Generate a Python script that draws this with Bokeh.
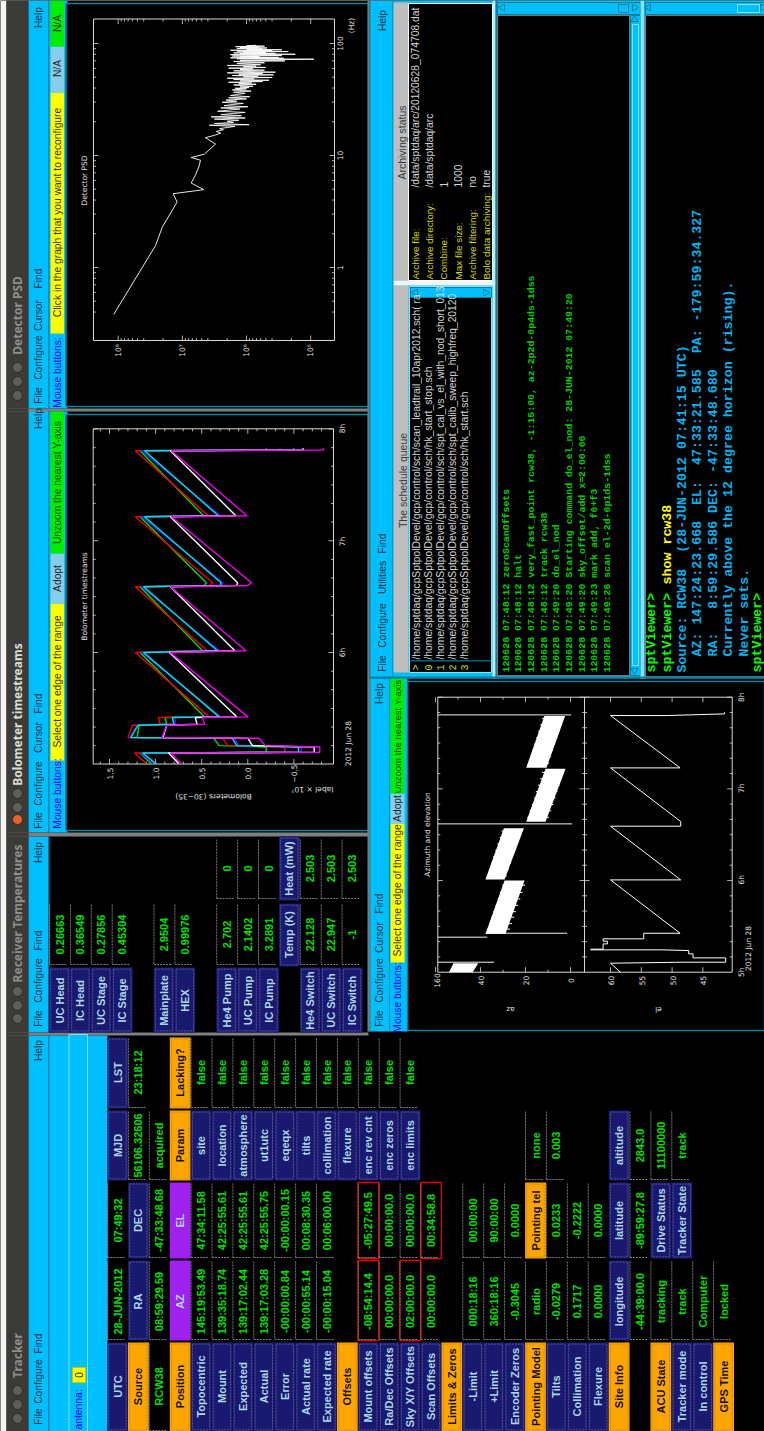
from math import pi
from bokeh.plotting import figure
from bokeh.models import Range1d
from bokeh.core.properties import value
from bokeh.embed import file_html
from bokeh.resources import INLINE

# ---------------- data ----------------
tracker_rows = [
 ["n:UTC","v:28-JUN-2012","v:07:49:32","n:MJD","n:LST"],
 ["o:Source","n:RA","n:DEC","v:56106.32606","v:23:18:12"],
 ["v:RCW38","v:08:59:29.59","v:-47:33:48.68","v:acquired",""],
 ["o:Position","p:AZ","p:EL","o:Param","o:Lacking?"],
 ["n:Topocentric","v:145:19:53.49","v:47:34:11.58","n:site","v:false"],
 ["n:Mount","v:139:35:18.74","v:42:25:55.61","n:location","v:false"],
 ["n:Expected","v:139:17:02.44","v:42:25:55.61","n:atmosphere","v:false"],
 ["n:Actual","v:139:17:03.28","v:42:25:55.75","n:ut1utc","v:false"],
 ["n:Error","v:-00:00:00.84","v:-00:00:00.15","n:eqeqx","v:false"],
 ["n:Actual rate","v:-00:00:55.14","v:00:08:30.35","n:tilts","v:false"],
 ["n:Expected rate","v:-00:00:15.04","v:00:06:00.00","n:collimation","v:false"],
 ["o:Offsets","","","n:flexure","v:false"],
 ["n:Mount offsets","r:-08:54:14.4","r:-05:27:49.5","n:enc rev cnt","v:false"],
 ["n:Ra/Dec Offsets","v:00:00:00.0","v:00:00:00.0","n:enc zeros","v:false"],
 ["n:Sky X/Y Offsets","r:02:00:00.0","v:00:00:00.0","n:enc limits","v:false"],
 ["n:Scan Offsets","v:00:00:00.0","r:00:34:58.8","",""],
 ["o:Limits & Zeros","","","",""],
 ["n:-Limit","v:000:18:16","v:00:00:00","",""],
 ["n:+Limit","v:360:18:16","v:90:00:00","",""],
 ["n:Encoder Zeros","v:-0.3045","v:0.0000","",""],
 ["o:Pointing Model","v:radio","o:Pointing tel","v:none",""],
 ["n:Tilts","v:-0.0279","v:0.0233","v:0.003",""],
 ["n:Collimation","v:0.1717","v:-0.2222","",""],
 ["n:Flexure","v:0.0000","v:0.0000","",""],
 ["o:Site Info","n:longitude","n:latitude","n:altitude",""],
 ["","v:-44:39:00.0","v:-89:59:27.8","v:2843.0",""],
 ["o:ACU State","v:tracking","n:Drive Status","v:11100000",""],
 ["n:Tracker mode","v:track","n:Tracker State","v:track",""],
 ["n:In control","v:Computer","","",""],
 ["o:GPS Time","v:locked","","",""],
]
temp_rows = [
 (0,"UC Head","0.26663",""),(1,"IC Head","0.36549",""),(2,"UC Stage","0.27856",""),(3,"IC Stage","0.45304",""),
 (5,"Mainplate","2.9504",""),(6,"HEX","0.99976",""),
 (8,"He4 Pump","2.702","0"),(9,"UC Pump","2.1402","0"),(10,"IC Pump","3.2891","0"),
 (12,"He4 Switch","22.128","2.503"),(13,"UC Switch","22.947","2.503"),(14,"IC Switch","-1","2.503"),
]
schedule_lines = [
 "/home/sptdaq/gcpSptpolDevel/gcp/control/sch/scan_leadtrail_10apr2012.sch( ra",
 "/home/sptdaq/gcpSptpolDevel/gcp/control/sch/hk_start_stop.sch",
 "/home/sptdaq/gcpSptpolDevel/gcp/control/sch/spt_cal_vs_el_with_nod_short_013",
 "/home/sptdaq/gcpSptpolDevel/gcp/control/sch/spt_calib_sweep_highfreq_20120",
 "/home/sptdaq/gcpSptpolDevel/gcp/control/sch/hk_start.sch",
]
schedule_marks = [">","0","1","2","3"]
archive_labels = ["Archive file:","Archive directory:","Combine:","Max file size:","Archive filtering:","Bolo data archiving:"]
archive_values = ["/data/sptdaq/arc/20120628_074708.dat","/data/sptdaq/arc","1","1000","no","true"]
log_lines = [
 "120628 07:48:12 zeroScanOffsets","120628 07:48:12 halt",
 "120628 07:48:12 very_fast_point rcw38, -1:15:00, az-2p2d-0p4ds-1dss",
 "120628 07:48:12 track rcw38","120628 07:49:20 do_el_nod",
 "120628 07:49:20 Starting command do_el_nod: 28-JUN-2012 07:49:20",
 "120628 07:49:20 sky_offset/add x=2:00:00","120628 07:49:23 mark add, f0+f3",
 "120628 07:49:26 scan el-2d-0p1ds-1dss",
]
console_lines = [
 "Source: RCW38  (28-JUN-2012 07:41:15 UTC)",
 "  AZ: 147:24:23.668  EL:  47:33:21.585  PA: -179:59:34.327",
 "  RA:   8:59:29.586 DEC: -47:33:48.680",
 "  Currently above the 12 degree horizon (rising).",
 "  Never sets.",
]

bolo_hours = [5.006,5.101,5.107,5.155,5.167,5.233,5.239,5.349,5.358,5.418,5.424,6.0,6.015,6.588,6.6,6.624,7.215,7.224,7.806,7.812,7.827]
bolo_green   = [1.05,1.17,-0.2,-0.2,0.31,0.37,1.2,1.18,0.88,0.9,0.47,1.17,0.49,1.17,0.47,0.45,1.17,0.48,1.17,-0.2,-0.2]
bolo_red     = [1.1,1.23,-0.4,-0.4,0.22,0.27,1.3,1.25,0.95,0.97,0.42,1.22,0.44,1.22,0.42,0.38,1.22,0.43,1.22,-0.35,-0.35]
bolo_blue    = [1.03,1.16,-0.58,-0.58,0.1,0.15,1.28,1.2,0.78,0.8,0.30,1.15,0.31,1.15,0.28,0.27,1.15,0.30,1.15,-0.6,-0.6]
bolo_cyan    = [1.0,1.14,-0.55,-0.55,0.12,0.17,1.27,1.19,0.8,0.82,0.31,1.13,0.33,1.13,0.30,0.29,1.12,0.32,1.12,-0.5,-0.5]
bolo_white   = [0.75,0.86,-0.72,-0.72,-0.05,0.0,0.92,0.88,0.55,0.57,0.12,0.85,0.14,0.84,0.12,0.11,0.84,0.13,0.84,-0.6,-0.6]
bolo_magenta = [0.72,0.84,-0.78,-0.78,-0.19,-0.12,0.93,0.88,0.47,0.49,0.0,0.84,0.02,0.84,0.0,-0.04,0.83,0.01,0.83,-0.82,-0.82]

psd_log_freq = [-0.419,0.195,0.359,0.584,0.659,0.695,0.754,0.82,0.898,0.958,0.982,1.012,1.102,1.159,
 1.18,1.20,1.215,1.23,1.24,1.25,1.26,1.27,1.275,1.285,1.295,1.305,1.315,1.325,1.335,1.345,1.355,1.365,1.375,1.385,1.395,1.405,1.415,1.425,1.435,1.445,1.455,1.465,1.475,1.485,1.495,1.505,1.515,1.525,1.535,1.545,1.555,1.565,1.575,1.585,1.595,
 1.60,1.606,1.612,1.618,1.624,1.63,1.636,1.642,1.648,1.654,1.66,1.666,1.672,1.678,1.684,1.69,1.696,1.702,1.708,1.714,1.72,1.726,1.732,1.738,1.744,1.75,1.756,1.762,1.768,1.774,1.78,1.786,1.792,1.798,1.804,1.81,1.816,1.822,1.828,1.834,1.84,1.845,1.85,1.855,1.86,1.864,1.868,1.872,1.876,1.88,1.884,1.888,1.892,1.896,1.9,1.904,1.908,1.912,1.916,1.92,1.924,1.928,1.932,1.936,1.94,1.944,1.948,1.952,1.956,1.96,1.964,1.968,1.972,1.976,1.98,1.984]
psd_log_power = [8.07,7.418,7.314,7.081,7.143,6.665,6.862,6.80,6.743,6.717,6.862,6.655,6.483,6.639,
 6.50,6.40,6.47,6.36,6.42,6.30,6.18,6.58,5.96,6.50,6.2,6.3,6.12,6.5,6.02,6.55,6.08,6.4,6.2,6.02,6.45,6.28,6.1,6.4,5.98,6.35,6.22,6.05,6.38,6.15,6.32,6.0,6.28,5.95,6.25,6.15,6.02,6.2,5.93,6.22,6.0,
 6.18,5.96,6.1,5.9,6.05,6.2,5.85,6.12,5.92,6.28,5.75,6.1,5.65,6.2,5.88,6.3,5.6,6.05,5.82,6.22,5.58,6.12,5.75,6.3,5.55,6.0,6.2,5.72,6.1,5.9,6.28,5.7,6.05,5.85,6.3,5.78,6.0,6.15,5.72,6.05,6.2,5.4,6.1,5.6,4.95,6.15,5.42,6.25,5.5,6.1,5.8,6.22,5.45,6.0,6.25,5.24,6.1,5.55,6.2,5.7,6.05,5.35,6.15,5.6,6.25,5.45,6.0,5.75,6.15,5.68,6.1,5.8,6.17,5.72,6.0,5.85]

az_band_hours = [[5.0,5.098],[5.418,6.0],[6.01,6.57],[6.64,7.22],[7.23,7.795]]
az_band_low   = [[43.5,41.0],[28.9,20.4],[29.3,20.7],[11.1,2.2],[10.7,2.4]]
az_band_high  = [[54.0,52.0],[37.8,29.3],[37.8,29.6],[19.7,11.1],[19.7,11.6]]
az_slew_hours = [5.109,5.382,5.425,6.618,7.807]
az_slew_from  = [59,59,37,59,59]
az_slew_to    = [34,37,1.5,-0.7,-0.3]
# short scan turn-round marks that stick out of the white bands
az_comb_hours = [5.47,5.53,5.60,5.66,5.73,5.80,5.87,5.95,6.05,6.12,6.19,6.26,6.33,6.40,6.47,6.54,6.69,6.76,6.83,6.90,6.97,7.04,7.11,7.18,7.28,7.35,7.42,7.49,7.56,7.63,7.70,7.77]
az_comb_low   = [26.9,26.0,25.0,24.2,23.3,22.3,21.3,20.2,28.3,27.4,26.5,25.6,24.6,23.7,22.8,21.8,9.6,8.6,7.6,6.7,5.8,4.8,3.9,3.0,9.5,8.6,7.7,6.8,5.8,4.9,4.0,3.0]
az_comb_high  = [37.0,36.1,35.2,34.4,33.3,32.4,31.4,30.3,37.1,36.2,35.2,34.4,33.4,32.5,31.5,30.7,19.2,18.2,17.2,16.3,15.4,14.4,13.5,12.6,18.9,17.9,17.1,16.2,15.2,14.3,13.4,12.6]

el_hours = [5.0,5.098,5.109,5.109,5.156,5.156,5.2,5.2,5.236,5.244,5.244,5.251,5.251,5.309,5.309,5.338,5.338,5.364,5.364,5.425,5.425,6.007,6.007,6.593,6.593,6.644,7.229,7.229,7.8,7.8,7.818,7.836]
el_deg   = [58.4,60,48.4,41.3,41.3,46.6,46.6,47.3,47.3,51.6,63.2,63.2,61.2,61.2,60.5,60.5,61.2,61.2,54.6,54.6,48.7,60,48.6,60,48.6,48.6,60,48.7,60,50.8,41.5,41.5]

# ---------------- figure: whole page in window pixels ----------------
X0, X1, Y0, Y1 = 0, 764, 0, 1431
p = figure(width=X1-X0, height=Y1-Y0, x_range=Range1d(X0, X1), y_range=Range1d(Y1, Y0),
           output_backend="svg", toolbar_location=None, min_border=0)
p.axis.visible = False
p.grid.visible = False
p.outline_line_color = None
p.background_fill_color = "#000000"
p.border_fill_color = "#000000"

def calib(a, pa, b, pb, lo, hi):
    s = (b-a)/(pb-pa)
    return Range1d(a+(lo-pa)*s, a+(hi-pa)*s)

p.extra_x_ranges = {
    "bolo_v": calib(0, 247.3, 1, 155.1, X0, X1),
    "psd_p":  calib(8, 117.7, 6, 246.0, X0, X1),
    "az_v":   calib(0, 570, 20, 525, X0, X1),
    "el_v":   calib(60, 610, 45, 702.4, X0, X1),
}
p.extra_y_ranges = {
    "bolo_t": calib(6, 652, 8, 428.5, Y1, Y0),
    "psd_f":  calib(0, 267, 2, 43, Y1, Y0),
    "azel_t": calib(5, 971.7, 8, 696.7, Y1, Y0),
}

CY = "#00bfff"; TEAL = "#0a7f9f"; LT = "#7fe5ff"; GRAY = "#bebebe"; NAVY = "#191970"
ORG = "#ffa500"; PUR = "#a020f0"; GRN = "#00e000"; LB = "#add8e6"; YEL = "#ffff00"; TB = "#3c3b37"

def box(x0, x1, y0, y1, c, line=None, lw=1, dash="solid", alpha=1):
    p.quad(left=[x0], right=[x1], top=[y0], bottom=[y1], fill_color=c, fill_alpha=alpha,
           line_color=line, line_width=lw, line_dash=dash)

texts = {}
def T(x, y, s, c="#000000", size=11, font="Liberation Sans", style="normal", align="center", angle=pi/2):
    if not s:
        return
    texts.setdefault((c, size, font, style, align, angle), []).append((x, y, s))

# ------ backgrounds
box(0, 764, 0, 1431, "#000000")
box(0, 6, 0, 1431, "#f4f4f2")
box(6, 28, 0, 1431, TB)
box(28, 48, 0, 408, CY); box(28, 48, 410, 832, CY); box(28, 48, 836, 1032, CY); box(28, 48, 1035, 1431, CY)
box(6, 368, 408, 411, "#808080"); box(6, 368, 832, 836, "#808080"); box(6, 368, 1032, 1035, "#808080")
box(6, 28, 408, 411, TB); box(6, 28, 832, 836, TB); box(6, 28, 1032, 1035, TB)
# tracker header
box(48, 107, 1035, 1431, CY, None)
box(68.5, 87, 1034, 1431, CY, LT, 1)
box(48, 49, 1035, 1431, TEAL)
box(48, 49, 836, 1032, TEAL)
# detector / bolometer strips and frames
for y0, y1 in [(0, 408), (411, 832)]:
    box(48, 67, y0, y1, CY)
    box(65.5, 368, y0+3, y1-2, "#000000", TEAL, 1.5)
    box(48, 49, y0, y1, TEAL)
box(50, 63.5, 333, 407, CY); box(50, 63.5, 92, 333, YEL); box(50, 63.5, 46, 92, "#87ceeb"); box(50, 63.5, 0, 46, "#00ee00")
box(50, 63.5, 760, 831, CY); box(50, 63.5, 603, 760, YEL); box(50, 63.5, 553, 603, "#87ceeb"); box(50, 63.5, 411, 553, "#00ee00")
# az/el window
box(368, 407, 678, 1031, CY)
box(369, 370, 678, 1031, TEAL); box(388.5, 389.5, 678, 1031, TEAL)
box(407, 764, 681, 1030, "#000000", TEAL, 1.5)
box(390, 404, 962, 1030, CY); box(390, 404, 823, 962, YEL); box(390, 404, 793, 823, "#87ceeb"); box(390, 404, 678, 793, "#00ee00")
box(367, 369, 0, 1031, "#7a7a7a")
# top-right block
box(369, 764, 0, 678, CY)
box(369, 370, 0, 678, TEAL); box(392, 393, 0, 678, TEAL)
box(393, 408, 2, 280, GRAY); box(393, 408, 285, 672, GRAY)
box(408, 492, 3, 280, "#000000", "#ffffff", 1)
box(393, 495, 280, 285, "#f4f4f4")
box(409, 491, 286, 672, "#000000", LT, 1)
box(410, 491, 287, 297, CY, TEAL, 1)
box(410, 491, 660, 660.8, CY)
box(492, 495, 0, 678, "#b8f0ff", None)
box(495, 497, 0, 678, TEAL)
box(497, 629, 15, 675, "#000000", "#777777", 1)
box(497, 640, 2, 14, CY, TEAL, 1)
box(630, 640, 15, 675, CY, TEAL, 1)
box(640, 644, 0, 678, LT)
box(644, 645, 0, 678, TEAL)
box(645, 764, 15, 676, "#000000", "#777777", 1)
box(645, 764, 2, 14, CY, TEAL, 1)
box(618, 628, 4, 12, CY, TEAL, 1); box(737, 759, 4, 12, CY, LT, 1)
box(632, 638, 24, 665, CY, LT, 1)
box(369, 764, 676, 678, TEAL)
p.scatter(x=[502,648,415], y=[7,7,292], marker="triangle", size=7, angle=pi/2, fill_color=CY, line_color=TEAL)
p.scatter(x=[634,762,485], y=[7,7,292], marker="triangle", size=7, angle=-pi/2, fill_color=CY, line_color=TEAL)
p.scatter(x=[634], y=[19], marker="triangle", size=7, angle=0, fill_color=CY, line_color=TEAL)
p.scatter(x=[634], y=[670], marker="triangle", size=7, angle=pi, fill_color=CY, line_color=TEAL)

# ------ title bars
T(17, 1355, "Tracker", "#8f8e89", 12, "Noto Sans", "bold")
T(17, 913, "Receiver Temperatures", "#8f8e89", 12, "Noto Sans", "bold")
T(17, 714, "Bolometer timestreams", "#dfdbd2", 12, "Noto Sans", "bold")
T(17, 315, "Detector PSD", "#8f8e89", 12, "Noto Sans", "bold")
for ys, first in [((1418,1404,1390), "#5f5e5a"), ((1018,1005,991), "#5f5e5a"), ((819,807,793), "#e8622c"), ((395,381,367), "#5f5e5a")]:
    p.circle(x=[17]*3, y=list(ys), radius=5, fill_color=[first, "#5f5e5a", "#5f5e5a"], line_color="#2c2b28")

# ------ menus
menu_items = [
 (38, [("File",1416),("Configure",1381),("Find",1343),("Help",1050)]),
 (38, [("File",1018),("Configure",980),("Find",940),("Help",852)]),
 (38, [("File",820),("Configure",783),("Cursor",737),("Find",703),("Help",418)]),
 (38, [("File",395),("Configure",357),("Cursor",315),("Find",278),("Help",17)]),
 (379, [("File",1018),("Configure",980),("Cursor",937),("Find",903),("Help",693)]),
 (382, [("File",663),("Configure",625),("Utilities",577),("Find",543),("Help",20)]),
]
for mx, items in menu_items:
    for s, y in items:
        T(mx, y, s, "#10353f", 10.3)

# strip labels
for s, x, y, c, sz in [
    ("Mouse buttons:",57,372,"#0000ff",10.3),("Click in the graph that you want to reconfigure",57,212,"#333300",10.3),
    ("N/A",57,68,"#222222",10.3),("N/A",57,23,"#222222",10.3),
    ("Mouse buttons:",57,793,"#0000ff",10.3),("Select one edge of the range",57,681,"#333300",10.3),
    ("Adopt",57,578,"#222222",10.3),("Unzoom the nearest Y-axis",57,482,"#004400",10.3),
    ("Mouse buttons:",397,997,"#0000ff",10.3),("Select one edge of the range",397,890,"#333300",10.3),
    ("Adopt",397,808,"#222222",10.3),("Unzoom the nearest Y-axis",397,736,"#004400",9.5)]:
    T(x, y, s, c, sz)

T(78, 1409, "antenna:", "#0000ff", 10.3)
box(72, 85, 1367, 1382, YEL, "#c8c800", 1)
T(78.5, 1374.5, "0", "#222222", 10)

# ------ tracker table
col_spans = [(1342,1431),(1260,1340),(1182,1258),(1110,1180),(1037,1108)]
col_text = [1386,1301,1220,1145,1072]
seg = {"x0":[], "y0":[], "x1":[], "y1":[]}
LAB = 11
def navy(xc, y0, y1, s):
    box(xc-10.4, xc+10.4, y0, y1, NAVY)
    box(xc-8.7, xc+8.7, y0+1.6, y1-1.6, NAVY, "#6f6fb5", 0.7, "2 1")
def cell(xc, y0, y1, yt, spec):
    if not spec:
        return
    k, s = spec[0], spec[2:]
    if k == "n":
        navy(xc, y0, y1, s); T(xc, yt, s, LB, LAB, "Liberation Sans", "bold")
    elif k == "o":
        box(xc-10.4, xc+10.4, y0, y1, ORG)
        box(xc-8.7, xc+8.7, y0+1.6, y1-1.6, ORG, "#b8801a", 0.7, "2 1")
        T(xc, yt, s, "#111111", LAB, "Liberation Sans", "bold")
    elif k == "p":
        box(xc-10.4, xc+10.4, y0, y1, PUR)
        T(xc, yt, s, LB, LAB, "Liberation Sans", "bold")
    else:
        seg["x0"] += [xc-10, xc-10]; seg["y0"] += [y0+1, y1-1]
        seg["x1"] += [xc-10, xc+7];  seg["y1"] += [y1-1, y1-1]
        T(xc, yt, s, GRN, 11, "Liberation Sans", "bold")
        if k == "r":
            box(xc-10.4, xc+10.4, y0, y1, "#000000", "#e00000", 1.3, "solid", 0)

for r, row in enumerate(tracker_rows):
    xc = 117 + 20.9*r
    for c, spec in enumerate(row):
        cell(xc, col_spans[c][0], col_spans[c][1], col_text[c], spec)

# ------ temperatures table
for r, lab, v1, v2 in temp_rows:
    xc = 59 + 20.9*r
    navy(xc, 967, 1032, lab); T(xc, 1000, lab, LB, LAB, "Liberation Sans", "bold")
    cell(xc, 903, 965, 934, "v:"+v1)
    if v2:
        cell(xc, 838, 899, 868, "v:"+v2)
cell(59+20.9*11, 903, 966, 934, "n:Temp (K)")
cell(59+20.9*11, 836, 900, 868, "n:Heat (mW)")

p.segment(x0=seg["x0"], y0=seg["y0"], x1=seg["x1"], y1=seg["y1"], line_color="#9a9a9a", line_width=0.8, line_dash="2 1")

# ------ schedule, archive, logs
T(402, 480, "The schedule queue", "#3a3a3a", 10.5)
for i, (m, s) in enumerate(zip(schedule_marks, schedule_lines)):
    x = 416 + 11.9*i
    T(x, 667, m, "#d8d800", 10, "Liberation Mono")
    T(x, 659, s, "#d5d5d5", 10.3, "Liberation Sans", "normal", "left")
T(401, 142, "Archiving status", "#3a3a3a", 10.5)
for i, (a, b) in enumerate(zip(archive_labels, archive_values)):
    x = 415 + 14.2*i
    T(x, 279, a, "#d8d800", 9.9, "Liberation Sans", "normal", "left")
    T(x, 187, b, "#d5d5d5", 10.3, "Liberation Sans", "normal", "left")
for i, s in enumerate(log_lines):
    T(505.7 + 12.64*i, 672, s, "#00d000", 9.9, "Liberation Mono", "bold", "left")
T(651, 672, "sptViewer>", "#00ff00", 13.3, "Liberation Mono", "bold", "left")
T(666.5, 672, "sptViewer>", "#00ff00", 13.3, "Liberation Mono", "bold", "left")
T(666.5, 584, "show rcw38", "#ffff00", 13.3, "Liberation Mono", "bold", "left")
for i, s in enumerate(console_lines):
    T(682 + 15.4*i, 672, s.replace("  ", "\u00a0\u00a0"), "#00b4f0", 13.3, "Liberation Mono", "bold", "left")
T(757, 672, "sptViewer>", "#00ff00", 13.3, "Liberation Mono", "bold", "left")

# ------ plots
PL = "#d8d8d8"; PF = 7.5

def frame(x0, x1, y0, y1):
    box(x0, x1, y0, y1, "#000000", PL, 1, "solid", 0)

def ticks_along_time(times, x_edges, length, yname):
    xs0, xs1, ts = [], [], []
    for t in times:
        xs0 += [x_edges[0], x_edges[1]]
        xs1 += [x_edges[0]+length, x_edges[1]-length]
        ts += [t, t]
    p.segment(x0=xs0, x1=xs1, y0=ts, y1=ts, y_range_name=yname, line_color=PL, line_width=0.8)

def ticks_along_value(vals, y_edges, length, xname):
    vs, y0, y1 = [], [], []
    for v in vals:
        vs += [v, v]
        y0 += [y_edges[0], y_edges[1]]
        y1 += [y_edges[0]-length, y_edges[1]+length]
    p.segment(x0=vs, x1=vs, y0=y0, y1=y1, x_range_name=xname, line_color=PL, line_width=0.8)

def tlabel(x, y, s, angle=pi/2, size=PF):
    T(x, y, s, "#e0e0e0", size, "DejaVu Sans", "normal", "center", angle)

# --- bolometers
frame(92.7, 333, 428.3, 763.5)
bolo_major = [6, 7, 8]
bolo_minor = [5.167,5.333,5.5,5.667,5.833,6.167,6.333,6.5,6.667,6.833,7.167,7.333,7.5,7.667,7.833]
ticks_along_time(bolo_major, (92.7, 333), 5, "bolo_t")
ticks_along_time(bolo_minor, (92.7, 333), 2.5, "bolo_t")
ticks_along_value([1.5,1.0,0.5,0.0,-0.5], (763.5, 428.3), 5, "bolo_v")
ticks_along_value([1.6,1.4,1.3,1.2,1.1,0.9,0.8,0.7,0.6,0.4,0.3,0.2,0.1,-0.1,-0.2,-0.3,-0.4,-0.6,-0.7,-0.8], (763.5, 428.3), 2.5, "bolo_v")
for series, c in [(bolo_green,"#00e000"),(bolo_red,"#f00000"),(bolo_blue,"#1030ff"),(bolo_cyan,"#00e0e0"),(bolo_white,"#ffffff"),(bolo_magenta,"#f000f0")]:
    p.line(x=series, y=bolo_hours, x_range_name="bolo_v", y_range_name="bolo_t", line_color=c, line_width=1.4)
tlabel(84, 596, "Bolometer timestreams")
tlabel(342, 652, "6h"); tlabel(342, 541, "7h"); tlabel(342, 428, "8h")
tlabel(348, 743, "2012 Jun 28")
for v, s in zip([1.5,1.0,0.5,0.0,-0.5], ["1.5","1.0","0.5","0.0","\u22120.5"]):
    T(247.3-92.2*v, 773, s, "#e0e0e0", PF, "DejaVu Sans", "normal", "center", pi/2)
tlabel(213, 796, "Bolometers (30\u221235)", pi)
tlabel(312, 789, "Iabel \u00d7 10\u2077", pi)

# --- PSD
frame(93, 334, 18.5, 340)
ticks_along_time([0,1,2], (93, 334), 5, "psd_f")
ticks_along_time([-0.398,-0.301,-0.222,-0.155,-0.097,-0.046,0.301,0.477,0.602,0.699,0.778,0.845,0.903,0.954,1.301,1.477,1.602,1.699,1.778,1.845,1.903,1.954], (93, 334), 2.5, "psd_f")
ticks_along_value([8,7,6,5], (340, 18.5), 5, "psd_p")
ticks_along_value([7.903,7.778,7.602,7.301,6.903,6.778,6.602,6.301,5.903,5.778,5.602,5.301,7.954,7.845,7.699,6.954,6.845,6.699,5.954,5.845,5.699], (340, 18.5), 2.5, "psd_p")
p.line(x=psd_log_power, y=psd_log_freq, x_range_name="psd_p", y_range_name="psd_f", line_color="#ffffff", line_width=0.9)
tlabel(84, 180, "Detector PSD")
tlabel(339, 43, "100"); tlabel(339, 155, "10"); tlabel(339, 267, "1"); tlabel(351, 25, "(Hz)")
for v, s in zip([117.7,181.7,246,310], ["10\u2078","10\u2077","10\u2076","10\u2075"]):
    tlabel(v, 350, s)

# --- Az / El
frame(437.3, 731.7, 696.7, 971.7)
p.segment(x0=[584], x1=[584], y0=[696.7], y1=[971.7], line_color=PL, line_width=1)
az_major = [6, 7, 8]
az_minor = [5.167,5.333,5.5,5.667,5.833,6.167,6.333,6.5,6.667,6.833,7.167,7.333,7.5,7.667,7.833]
ticks_along_time(az_major, (437.3, 731.7), 5, "azel_t")
ticks_along_time(az_minor, (437.3, 731.7), 2.5, "azel_t")
ticks_along_time(az_major, (584, 584), 5, "azel_t")
ticks_along_time(az_minor, (584, 584), 2.5, "azel_t")
ticks_along_value([60,40,20,0], (971.7, 696.7), 5, "az_v")
ticks_along_value([60,55,50,45], (971.7, 696.7), 5, "el_v")
ticks_along_value([50,30,10], (971.7, 696.7), 2.5, "az_v")
for h, lo, hi in zip(az_band_hours, az_band_low, az_band_high):
    p.harea(x1=lo, x2=hi, y=h, x_range_name="az_v", y_range_name="azel_t", fill_color="#ffffff")
p.segment(x0=az_comb_low, x1=az_comb_high, y0=az_comb_hours, y1=az_comb_hours, x_range_name="az_v", y_range_name="azel_t", line_color="#ffffff", line_width=1)
p.segment(x0=az_slew_from, x1=az_slew_to, y0=az_slew_hours, y1=az_slew_hours, x_range_name="az_v", y_range_name="azel_t", line_color="#f0f0f0", line_width=1)
p.line(x=el_deg, y=el_hours, x_range_name="el_v", y_range_name="azel_t", line_color="#ffffff", line_width=1)
tlabel(427, 834, "Azimuth and elevation")
tlabel(510, 1009, "az", pi); tlabel(658, 1009, "el", pi)
for y, s in [(971.7,"5h"),(879.3,"6h"),(787.7,"7h"),(696.7,"8h")]:
    tlabel(741, y, s)
tlabel(748, 948, "2012 Jun 28")
for x, s in [(436,"160"),(480,"40"),(525,"20"),(570,"0"),(610,"60"),(641,"55"),(672,"50"),(702,"45")]:
    tlabel(x, 980, s)

# ------ all texts, grouped by style
for (c, size, font, style, align, angle), items in texts.items():
    p.text(x=[i[0] for i in items], y=[i[1] for i in items], text=[i[2] for i in items],
           text_color=c, text_font_size=f"{size}px", text_font=value(font), text_font_style=style,
           text_align=align, text_baseline="middle", angle=angle)

open("out.html", "w").write(file_html(p, INLINE))
